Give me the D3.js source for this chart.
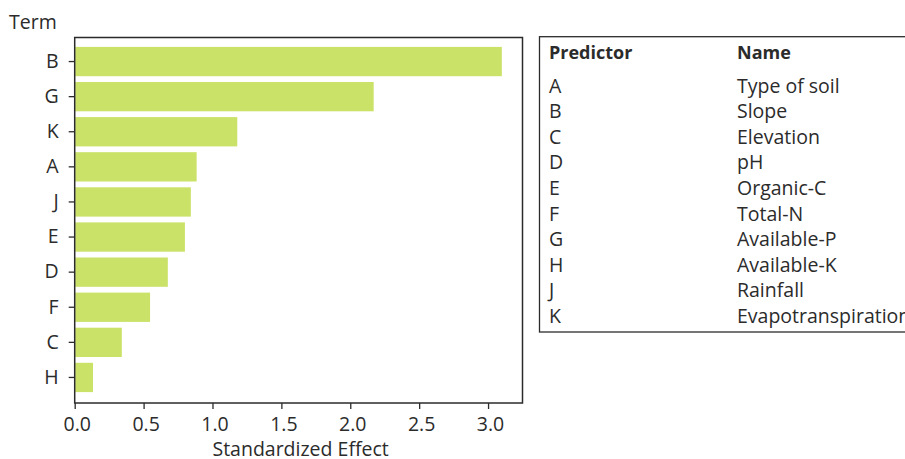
<!DOCTYPE html>
<html>
<head>
<meta charset="utf-8">
<script src="https://cdn.jsdelivr.net/npm/d3@7"></script>
<style>
  html, body { margin: 0; padding: 0; background: #fff; }
  svg { display: block; font-family: "Open Sans", sans-serif; }
</style>
</head>
<body>
<svg id="chart" width="905" height="459"></svg>
<script>
// Pareto-style chart of standardized effects, sorted largest first
const terms = ["B", "G", "K", "A", "J", "E", "D", "F", "C", "H"];
const effects = [3.10, 2.17, 1.18, 0.885, 0.843, 0.80, 0.676, 0.547, 0.342, 0.133];
const xTicks = [0, 0.5, 1.0, 1.5, 2.0, 2.5, 3.0];

// Predictor key shown beside the chart
const predictors = ["A", "B", "C", "D", "E", "F", "G", "H", "J", "K"];
const predictorNames = ["Type of soil", "Slope", "Elevation", "pH", "Organic-C",
  "Total-N", "Available-P", "Available-K", "Rainfall", "Evapotranspiration"];

const ink = "#2b2b2b";
const barColor = "#cbe269";
const fontSize = 19.5;

const svg = d3.select("#chart");

const plot = { left: 74.7, right: 522.5, top: 37.5, bottom: 403 };

const x = d3.scaleLinear().domain([0, 3.25]).range([plot.left, plot.right]);
const y = d3.scaleBand().domain(terms)
  .range([44, 395]).paddingInner(0.165).paddingOuter(0.0825);

// bars
svg.append("g").selectAll("rect")
  .data(terms.map((t, i) => ({ t, v: effects[i] })))
  .join("rect")
  .attr("x", x(0) + 0.5)
  .attr("y", d => y(d.t))
  .attr("width", d => x(d.v) - x(0) - 0.5)
  .attr("height", y.bandwidth())
  .attr("fill", barColor);

// frame
svg.append("rect")
  .attr("x", plot.left).attr("y", plot.top)
  .attr("width", plot.right - plot.left).attr("height", plot.bottom - plot.top)
  .attr("fill", "none").attr("stroke", ink).attr("stroke-width", 1.5);

// x axis
const xAxis = svg.append("g")
  .attr("transform", `translate(0,${plot.bottom})`)
  .call(d3.axisBottom(x).tickValues(xTicks).tickFormat(d3.format(".1f"))
    .tickSizeOuter(0).tickSizeInner(6).tickPadding(8));
xAxis.select(".domain").remove();
xAxis.selectAll("line").attr("stroke", ink).attr("stroke-width", 1.3);
xAxis.selectAll("text").attr("fill", ink).attr("dx", 2)
  .style("font-size", fontSize + "px").style("font-family", "Open Sans");

// y axis
const yAxis = svg.append("g")
  .attr("transform", `translate(${plot.left},0)`)
  .call(d3.axisLeft(y).tickSizeOuter(0).tickSizeInner(6).tickPadding(10));
yAxis.select(".domain").remove();
yAxis.selectAll("line").attr("stroke", ink).attr("stroke-width", 1.3);
yAxis.selectAll("text").attr("fill", ink).style("font-size", fontSize + "px")
  .style("font-family", "Open Sans");

// axis titles
svg.append("text")
  .attr("x", (plot.left + plot.right) / 2 + 2).attr("y", 456)
  .attr("text-anchor", "middle").attr("fill", ink)
  .style("font-size", fontSize + "px")
  .text("Standardized Effect");

svg.append("text")
  .attr("x", 9).attr("y", 29)
  .attr("fill", ink)
  .style("font-size", fontSize + "px")
  .text("Term");

// key table
const key = { left: 539.5, top: 36.7, bottom: 332, col1: 549, col2: 737 };
svg.append("rect")
  .attr("x", key.left).attr("y", key.top)
  .attr("width", 500).attr("height", key.bottom - key.top)
  .attr("fill", "none").attr("stroke", ink).attr("stroke-width", 1.3);

const header = svg.append("g").attr("fill", ink)
  .style("font-size", "18px").style("font-weight", "bold");
header.append("text").attr("x", key.col1).attr("y", 58.5).text("Predictor");
header.append("text").attr("x", key.col2).attr("y", 58.5).text("Name");

const rowY = d3.scalePoint().domain(predictors).range([92.5, 323]);
const rows = svg.append("g").attr("fill", ink).style("font-size", fontSize + "px")
  .selectAll("g").data(predictors.map((p, i) => ({ p, n: predictorNames[i] })))
  .join("g");
rows.append("text").attr("x", key.col1).attr("y", d => rowY(d.p)).text(d => d.p);
rows.append("text").attr("x", key.col2).attr("y", d => rowY(d.p)).text(d => d.n);
</script>
</body>
</html>
